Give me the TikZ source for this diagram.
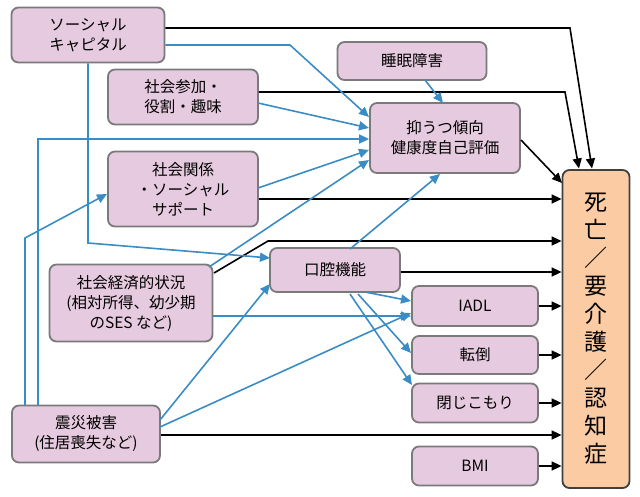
\documentclass[tikz,border=0pt]{standalone}
\usepackage{fontspec}
\setmainfont{Noto Sans CJK JP}
\usetikzlibrary{arrows.meta}
\definecolor{boxf}{HTML}{E6CADF}
\definecolor{boxd}{HTML}{7A7A7A}
\definecolor{deathf}{HTML}{FBCBA3}
\definecolor{bl}{HTML}{3A8CC4}
\begin{document}
\begin{tikzpicture}[x=1pt,y=-1pt,
 box/.style={draw=boxd,line width=1.8pt,fill=boxf,rounded corners=7pt,align=center,inner sep=0pt,font=\fontsize{15.5}{20}\selectfont},
 bk/.style={draw=black,line width=1.6pt,-{Triangle[length=10pt,width=9pt]}},
 bu/.style={draw=bl,line width=1.6pt,-{Triangle[length=10pt,width=9pt]}}]
\useasboundingbox (0,0) rectangle (640,496);
\node[box,minimum width=153pt,minimum height=55pt] (sc) at (88,35) {ソーシャル\\キャピタル};
\node[box,minimum width=149pt,minimum height=38pt] (sleep) at (412,61) {睡眠障害};
\node[box,minimum width=150pt,minimum height=55pt] (sank) at (183,97) {社会参加・\\役割・趣味};
\node[box,minimum width=150pt,minimum height=70pt] (dep) at (445,138) {抑うつ傾向\\健康度自己評価};
\node[box,minimum width=150pt,minimum height=75pt] (kan) at (183,189) {社会関係\\・ソーシャル\\サポート};
\node[box,minimum width=163pt,minimum height=77pt] (ses) at (131,303) {社会経済的状況\\(相対所得、幼少期\\のSES など)};
\node[box,minimum width=130pt,minimum height=44pt] (oral) at (335,270) {口腔機能};
\node[box,minimum width=126pt,minimum height=40pt] (iadl) at (475,306) {IADL};
\node[box,minimum width=126pt,minimum height=38pt] (fall) at (475,355) {転倒};
\node[box,minimum width=126pt,minimum height=39pt] (toji) at (475,403) {閉じこもり};
\node[box,minimum width=148pt,minimum height=57pt] (dis) at (86,434) {震災被害\\(住居喪失など)};
\node[box,minimum width=126pt,minimum height=39pt] (bmi) at (475,466) {BMI};
\node[draw=black!75,line width=1.8pt,fill=deathf,rounded corners=7pt,minimum width=67pt,minimum height=318pt,inner sep=0pt,align=center,font=\fontsize{23}{28}\selectfont] (death) at (596,329) {死\\亡\\／\\要\\介\\護\\／\\認\\知\\症};
\coordinate (c1) at (570,28); \coordinate (c2) at (565,92); \coordinate (c3) at (268,241);
\draw[bk] (sc.east|-0,28) -- (c1) -- (592,168.5);
\draw[bk] (sank.east|-0,92) -- (c2) -- (579,168.5);
\draw[bk] (521,140) -- (562,183);
\draw[bk] (kan.east|-0,199) -- (death.west|-0,199);
\draw[bk] (214,273) -- (c3) -- (death.west|-0,241);
\draw[bk] (oral.east|-0,272) -- (death.west|-0,272);
\foreach \n in {iadl,fall,toji,bmi} \draw[bk] (\n.east) -- (death.west|-\n.east);
\draw[bk] (dis.east|-0,435) -- (death.west|-0,435);
% blue
\coordinate (b1) at (290,45); \coordinate (b2) at (88,243); \coordinate (b3) at (25,238); \coordinate (b4) at (38,139);
\draw[bu] (sc.east|-0,45) -- (b1) -- (369,117);
\draw[bu] (258,103) -- (369,128);
\draw[bu] (38,405) -- (b4) -- (dep.west|-0,139);
\draw[bu] (258,188) -- (369,150);
\draw[bu] (209,267) -- (369,160);
\draw[bu] (350,249) -- (440,174);
\draw[bu] (425,80) -- (443,103);
\draw[bu] (sc.south) -- (b2) -- (270,258);
\draw[bu] (25,405) -- (b3) -- (107,194);
\draw[bu] (160,420) -- (270,284);
\draw[bu] (160,427) -- (411,313);
\draw[bu] (ses.east|-0,316) -- (iadl.west|-0,316);
\draw[bu] (365,292) -- (411,301);
\draw[bu] (358,294) -- (411,353);
\draw[bu] (350,294) -- (412,385);
\end{tikzpicture}
\end{document}
